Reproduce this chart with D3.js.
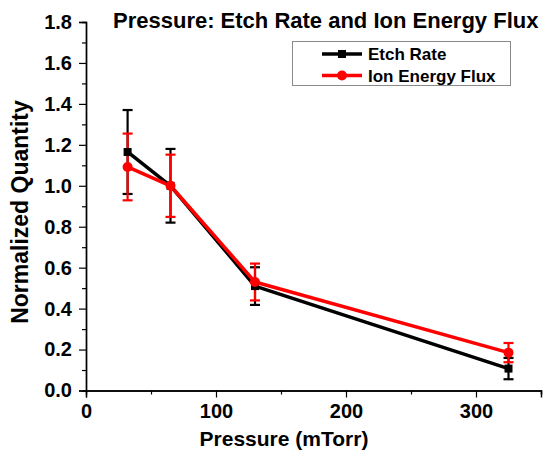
<!DOCTYPE html>
<html>
<head>
<meta charset="utf-8">
<script src="https://cdn.jsdelivr.net/npm/d3@7"></script>
<style>
  html, body { margin: 0; padding: 0; background: #fff; }
  svg { display: block; font-family: "Liberation Sans", Arial, sans-serif; font-weight: bold; }
</style>
</head>
<body>
<svg id="chart" width="547" height="454"></svg>
<script>
// Pressure sweep (mTorr)
const pressure = [32, 65, 130, 325];

// Normalized etch rate with error half-widths
const etchRate = [1.165, 1.0, 0.51, 0.107];
const etchErr = [0.205, 0.18, 0.092, 0.052];

// Normalized ion energy flux with error half-widths
const ionFlux = [1.092, 1.0, 0.53, 0.185];
const ionErr = [0.163, 0.152, 0.09, 0.047];

const xMajorTicks = [0, 100, 200, 300];
const xMinorTicks = [50, 150, 250, 350];
const yMajorTicks = [0, 0.2, 0.4, 0.6, 0.8, 1.0, 1.2, 1.4, 1.6, 1.8];
const yMinorTicks = [0.1, 0.3, 0.5, 0.7, 0.9, 1.1, 1.3, 1.5, 1.7];

const seriesNames = ["Etch Rate", "Ion Energy Flux"];
const seriesColors = ["#000000", "#ff0000"];

const svg = d3.select("#chart");
const plotLeft = 86, plotRight = 541, plotTop = 22, plotBottom = 390.5;

const x = d3.scaleLinear().domain([0, 350]).range([plotLeft, plotRight]);
const y = d3.scaleLinear().domain([0, 1.8]).range([plotBottom, plotTop]);

// Axes
const xAxisMajor = d3.axisBottom(x).tickValues(xMajorTicks).tickSize(7).tickPadding(6).tickFormat(d3.format("d"));
const xAxisMinor = d3.axisBottom(x).tickValues(xMinorTicks).tickSize(4).tickFormat("");
const yAxisMajor = d3.axisLeft(y).tickValues(yMajorTicks).tickSize(7).tickPadding(7).tickFormat(d3.format(".1f"));
const yAxisMinor = d3.axisLeft(y).tickValues(yMinorTicks).tickSize(4).tickFormat("");

function styleAxis(g) {
  g.selectAll(".domain").attr("stroke", "#000").attr("stroke-width", 1.4);
  g.selectAll(".tick line").attr("stroke", "#000").attr("stroke-width", 1.2);
  g.selectAll(".tick text").attr("fill", "#000")
    .style("font-family", "'Liberation Sans', Arial, sans-serif")
    .style("font-weight", "bold").style("font-size", "20px");
}

svg.append("g").attr("transform", `translate(0,${plotBottom})`).call(xAxisMinor).call(styleAxis);
svg.append("g").attr("transform", `translate(0,${plotBottom})`).call(xAxisMajor).call(styleAxis);
svg.append("g").attr("transform", `translate(${plotLeft},0)`).call(yAxisMinor).call(styleAxis);
svg.append("g").attr("transform", `translate(${plotLeft},0)`).call(yAxisMajor).call(styleAxis);

// Axis titles
svg.append("text")
  .attr("x", 284).attr("y", 446)
  .attr("text-anchor", "middle")
  .style("font-size", "21px")
  .text("Pressure (mTorr)");

svg.append("text")
  .attr("transform", "translate(28,212) rotate(-90)")
  .attr("text-anchor", "middle")
  .style("font-size", "23px")
  .text("Normalized Quantity");

// Chart title
svg.append("text")
  .attr("x", 113).attr("y", 28)
  .style("font-size", "22px")
  .text("Pressure: Etch Rate and Ion Energy Flux");

// Series
const series = [
  { name: seriesNames[0], color: seriesColors[0], values: etchRate, err: etchErr },
  { name: seriesNames[1], color: seriesColors[1], values: ionFlux, err: ionErr }
];

const line = d3.line().x(d => x(d.p)).y(d => y(d.v));
const capHalf = 5;

series.forEach(s => {
  const pts = pressure.map((p, i) => ({ p, v: s.values[i], e: s.err[i] }));
  const g = svg.append("g");
  // error bars
  pts.forEach(d => {
    g.append("line").attr("x1", x(d.p)).attr("x2", x(d.p))
      .attr("y1", y(d.v - d.e)).attr("y2", y(d.v + d.e))
      .attr("stroke", s.color).attr("stroke-width", 2.2);
    [d.v - d.e, d.v + d.e].forEach(v => {
      g.append("line").attr("x1", x(d.p) - capHalf).attr("x2", x(d.p) + capHalf)
        .attr("y1", y(v)).attr("y2", y(v))
        .attr("stroke", s.color).attr("stroke-width", 2.2);
    });
  });
  g.append("path").datum(pts).attr("d", line)
    .attr("fill", "none").attr("stroke", s.color).attr("stroke-width", 3.5)
    .attr("stroke-linejoin", "round");
  s.pts = pts;
});

// Markers
svg.append("g").selectAll("rect").data(series[0].pts).join("rect")
  .attr("x", d => x(d.p) - 4).attr("y", d => y(d.v) - 4)
  .attr("width", 8).attr("height", 8).attr("fill", seriesColors[0]);
svg.append("g").selectAll("circle").data(series[1].pts).join("circle")
  .attr("cx", d => x(d.p)).attr("cy", d => y(d.v)).attr("r", 5)
  .attr("fill", seriesColors[1]);

// Legend
const lg = svg.append("g");
lg.append("rect").attr("x", 292.5).attr("y", 41.5).attr("width", 218).attr("height", 44)
  .attr("fill", "#fff").attr("stroke", "#8a8a8a").attr("stroke-width", 1);
series.forEach((s, i) => {
  const yy = 54 + i * 21.5;
  lg.append("line").attr("x1", 322).attr("x2", 362).attr("y1", yy).attr("y2", yy)
    .attr("stroke", s.color).attr("stroke-width", 3.5);
  if (i === 0) {
    lg.append("rect").attr("x", 338).attr("y", yy - 4).attr("width", 8).attr("height", 8).attr("fill", s.color);
  } else {
    lg.append("circle").attr("cx", 342).attr("cy", yy).attr("r", 5).attr("fill", s.color);
  }
  lg.append("text").attr("x", 368).attr("y", yy).attr("dy", "0.36em")
    .style("font-size", "17px").text(s.name);
});
</script>
</body>
</html>
